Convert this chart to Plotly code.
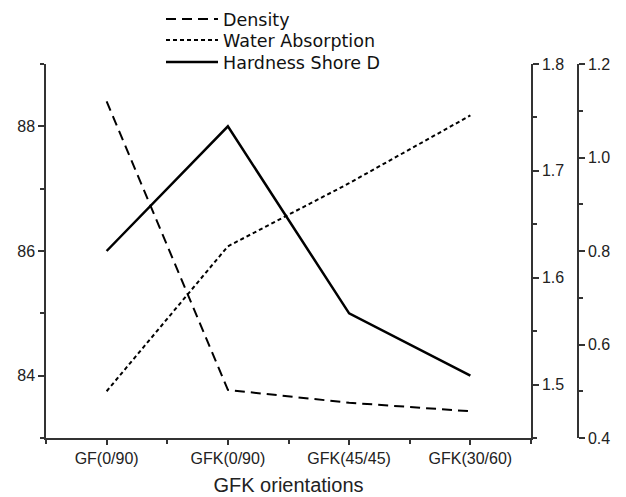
import plotly.graph_objects as go

categories = ["GF(0/90)", "GFK(0/90)", "GFK(45/45)", "GFK(30/60)"]
density = [1.765, 1.495, 1.483, 1.475]
water_absorption = [0.50, 0.81, 0.945, 1.09]
hardness = [86, 88, 85, 84]

xpos = list(range(len(categories)))

AX = "#333333"
TICKFONT = dict(family="Liberation Sans, Arial, sans-serif", size=16, color="#222222")
LEGFONT = dict(family="DejaVu Sans", size=17.5, color="#111111")

# page is rendered with an 8px body offset; figure is sized to fit the window
OFF = 8
W, H = 626 - OFF, 497 - OFF
ml = 46 - OFF
mt = 64 - OFF
mr = W - (578 - OFF)
mb = H - (438 - OFF)
pw = W - ml - mr
xdom_end = (531 - OFF - ml) / pw

fig = go.Figure()
fig.add_trace(go.Scatter(x=xpos, y=density, name="Density", mode="lines",
                         line=dict(color="black", width=2, dash="10px,6px"), yaxis="y2",
                         legend="legend"))
fig.add_trace(go.Scatter(x=xpos, y=water_absorption, name="Water Absorption", mode="lines",
                         line=dict(color="black", width=2, dash="4px,3px"), yaxis="y3",
                         legend="legend2"))
fig.add_trace(go.Scatter(x=xpos, y=hardness, name="Hardness Shore D", mode="lines",
                         line=dict(color="black", width=2.5), yaxis="y",
                         legend="legend3"))


def leg(yc):
    return dict(xref="container", yref="container", x=(161 - OFF) / W, y=1 - (yc - OFF) / H,
                xanchor="left", yanchor="middle", bgcolor="rgba(0,0,0,0)", font=LEGFONT,
                itemwidth=52)


fig.update_layout(
    width=W, height=H,
    margin=dict(l=ml, r=mr, t=mt, b=mb, autoexpand=False),
    paper_bgcolor="white", plot_bgcolor="white",
    showlegend=True,
    legend=leg(19), legend2=leg(40), legend3=leg(62),
    xaxis=dict(domain=[0, xdom_end], range=[-0.5, 3.5], tickmode="array", tickvals=xpos,
               ticktext=categories, showgrid=False, zeroline=False, showline=True,
               linecolor=AX, linewidth=1.5, ticks="outside", ticklen=5, tickwidth=1.5,
               tickcolor=AX, tickfont=TICKFONT,
               minor=dict(tick0=0.5, dtick=1, ticks="outside", ticklen=4, tickwidth=1.5, tickcolor=AX),
               title=dict(text="GFK orientations", standoff=12,
                          font=dict(family="Liberation Sans, Arial, sans-serif", size=20, color="#222222"))),
    yaxis=dict(range=[83, 89], tick0=84, dtick=2, showgrid=False, zeroline=False, showline=True,
               linecolor=AX, linewidth=1.5, ticks="outside", ticklen=6, tickwidth=1.5, tickcolor=AX,
               tickfont=TICKFONT,
               minor=dict(tick0=83, dtick=1, ticks="outside", ticklen=4, tickwidth=1.5, tickcolor=AX)),
    yaxis2=dict(range=[1.45, 1.8], tick0=1.5, dtick=0.1, tickformat=".1f", overlaying="y", side="right",
                anchor="x", showgrid=False, zeroline=False, showline=True, linecolor=AX, linewidth=1.5,
                ticks="outside", ticklen=6, tickwidth=1.5, tickcolor=AX, tickfont=TICKFONT,
                minor=dict(tick0=1.55, dtick=0.1, ticks="outside", ticklen=4, tickwidth=1.5, tickcolor=AX)),
    yaxis3=dict(range=[0.4, 1.2], tick0=0.4, dtick=0.2, tickformat=".1f", overlaying="y", side="right",
                anchor="free", position=1.0, showgrid=False, zeroline=False, showline=True,
                linecolor=AX, linewidth=1.5, ticks="outside", ticklen=6, tickwidth=1.5, tickcolor=AX,
                tickfont=TICKFONT,
                minor=dict(tick0=0.5, dtick=0.2, ticks="outside", ticklen=4, tickwidth=1.5, tickcolor=AX)),
)

fig.write_html("out.html")
